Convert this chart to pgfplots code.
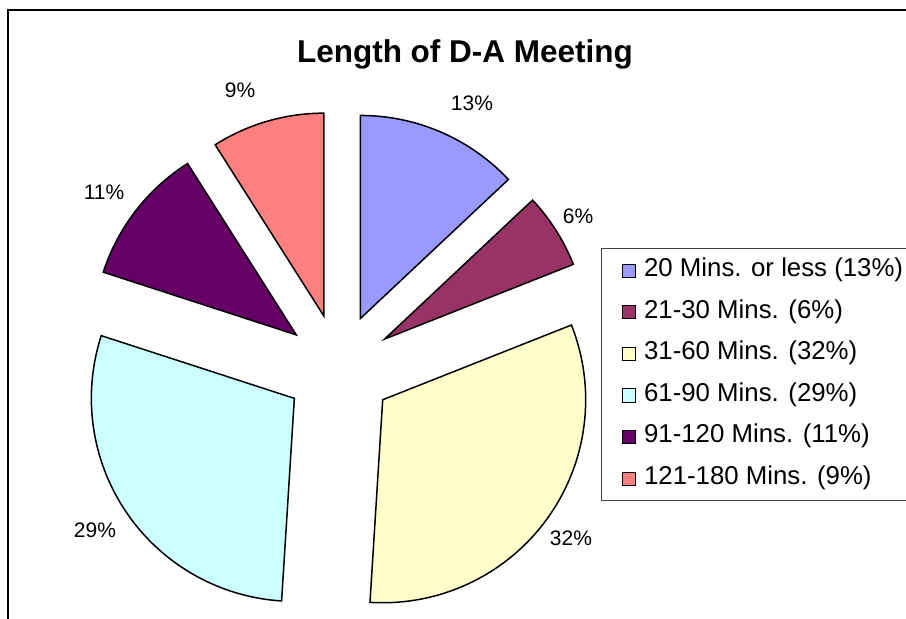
\documentclass[border=0pt]{standalone}
\usepackage{pgfplots}
\pgfplotsset{compat=1.18}
\usepackage{fontspec}
\setmainfont{Liberation Sans}

\definecolor{c1}{HTML}{9999FF}
\definecolor{c2}{HTML}{993366}
\definecolor{c3}{HTML}{FFFFCC}
\definecolor{c4}{HTML}{CCFFFF}
\definecolor{c5}{HTML}{660066}
\definecolor{c6}{HTML}{FF8080}

% pie geometry, in picture pixels (y down)
\def\cx{339}
\def\cy{368}
\def\rr{203}
\def\dd{54}

% #1 start (cumulative %), #2 share (%), #3 colour
\newcommand{\pieslice}[3]{%
  \pgfmathsetmacro{\ta}{3.6*#1}%
  \pgfmathsetmacro{\tb}{3.6*(#1+#2)}%
  \pgfmathsetmacro{\tm}{(\ta+\tb)/2}%
  \pgfmathsetmacro{\ox}{\cx+\dd*sin(\tm)}%
  \pgfmathsetmacro{\oy}{\cy-\dd*cos(\tm)}%
  \edef\temp{\noexpand\addplot[fill=#3, draw=black, line width=0.75pt,
    domain=\ta:\tb, samples=90]
    ({\ox+\rr*sin(x)},{\oy-\rr*cos(x)}) -- (axis cs:\ox,\oy) -- cycle;}%
  \temp
}

\begin{document}
\begin{tikzpicture}
\begin{axis}[
  x=0.5pt, y=0.5pt,
  xmin=0, xmax=906, ymin=0, ymax=618,
  y dir=reverse,
  axis lines=none, clip=false,
  legend image code/.code={\draw[#1, line width=0.4pt] (0pt,-3.3pt) rectangle (6.6pt,3.3pt);},
  legend cell align=left,
  legend style={at={(axis cs:601,248)}, anchor=north west,
    draw=black!75, line width=0.5pt,
    inner xsep=10pt, inner ysep=5pt,
    row sep=8.8pt, column sep=4.3pt,
    nodes={inner sep=0pt, text height=9pt, text depth=3pt},
    font=\fontsize{12.9}{14}\selectfont},
]
\pieslice{0}{13}{c1}
\addlegendentry{20 Mins. or less (13\%)}
\pieslice{13}{6}{c2}
\addlegendentry{21-30 Mins. (6\%)}
\pieslice{19}{32}{c3}
\addlegendentry{31-60 Mins. (32\%)}
\pieslice{51}{29}{c4}
\addlegendentry{61-90 Mins. (29\%)}
\pieslice{80}{11}{c5}
\addlegendentry{91-120 Mins. (11\%)}
\pieslice{91}{9}{c6}
\addlegendentry{121-180 Mins. (9\%)}

\draw[line width=0.75pt] (axis cs:1000,10) -- (axis cs:8,10) -- (axis cs:8,700);
\node[font=\fontsize{15.75}{18}\selectfont\bfseries] at (axis cs:465,54) {Length of D-A Meeting};
\begin{scope}[every node/.style={font=\fontsize{10.5}{12}\selectfont}]
\node at (axis cs:472,103) {13\%};
\node at (axis cs:578,216) {6\%};
\node at (axis cs:571,538) {32\%};
\node at (axis cs:95,530) {29\%};
\node at (axis cs:104,192) {11\%};
\node at (axis cs:240,90) {9\%};
\end{scope}
\end{axis}
\pgfresetboundingbox
\path[use as bounding box] (current axis.south west) rectangle (current axis.north east);
\end{tikzpicture}
\end{document}
